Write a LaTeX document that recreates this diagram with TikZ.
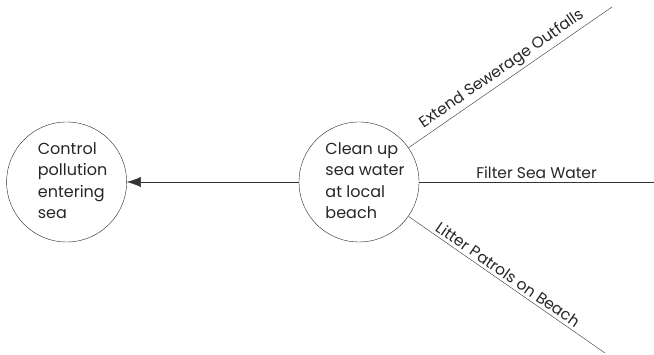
\documentclass[tikz,border=0pt]{standalone}
\usepackage{fontspec}
\setmainfont{Poppins}
\usetikzlibrary{arrows.meta,positioning}
% left-aligned block, pushed a little to the right inside its circle
\newcommand{\aimtext}[1]{\hspace*{6pt}\begin{tabular}{@{}l@{}}#1\end{tabular}\hspace*{-6pt}}
\tikzset{%
	aim/.style   = {draw, circle, minimum size=120pt, inner sep=0pt, font=\fontsize{16}{21.5}\selectfont}, % Objective
	link/.style  = {thin, draw=black!80}, % Means
	arrow/.style = {link, -{Latex[length=14pt,width=10pt]}},
	lab/.style   = {font=\fontsize{15.5}{18}\selectfont, sloped, above, inner sep=3pt},
}

\begin{document}
\begin{tikzpicture}[x=1pt,y=1pt,color=black!85]
	\useasboundingbox (0,0) rectangle (654,355);
	\node [aim] (clean) at (359,173) {\aimtext{Clean up\\sea water\\at local\\beach}};
	\node [aim] (control) [left=172pt of clean] {\aimtext{Control\\pollution\\entering\\sea}};
	\coordinate (sewer) at (612,348);
	\coordinate (filter) at (654,173);
	\coordinate (litter) at (605,2);
	
	\draw[arrow] (clean) -- (control);
	\draw[link] (clean) -- node[lab,pos=0.49] {Extend Sewerage Outfalls} (sewer);
	\draw[link] (clean) -- node[lab,pos=0.5] {Filter Sea Water} (filter);
	\draw[link] (clean) -- node[lab,pos=0.48] {Litter Patrols on Beach} (litter);
\end{tikzpicture}
\end{document}
